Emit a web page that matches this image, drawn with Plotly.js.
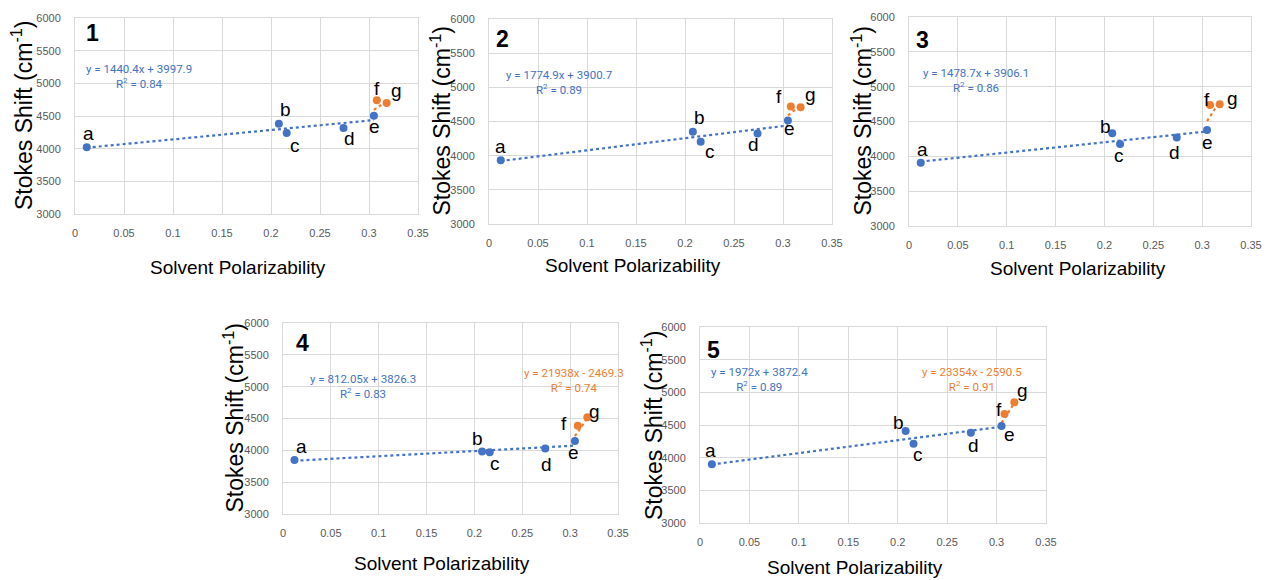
<!DOCTYPE html>
<html>
<head>
<meta charset="utf-8">
<script src="https://cdn.plot.ly/plotly-3.0.1.min.js"></script>
<style>html,body{margin:0;padding:0;background:#fff;}#chart{width:1266px;height:580px;}</style>
</head>
<body>
<div id="chart"></div>
<script>
// ---- data ----
const polarizability = [0.012, 0.208, 0.216, 0.274, 0.305, 0.308, 0.318];
const pointLabels = ['a', 'b', 'c', 'd', 'e', 'f', 'g'];
const panelNames = ['1', '2', '3', '4', '5'];
const shift1 = [4020, 4380, 4240, 4315, 4505, 4740, 4700];
const shift2 = [3933, 4349, 4202, 4324, 4515, 4720, 4710];
const shift3 = [3907, 4330, 4176, 4272, 4378, 4738, 4747];
const shift4 = [3850, 3981, 3970, 4028, 4148, 4388, 4518];
const shift5 = [3898, 4408, 4214, 4383, 4485, 4668, 4847];
// trendline coefficients [slope, intercept, R2] (null = no equation shown)
const blueFit = [[1440.4, 3997.9, 0.84], [1774.9, 3900.7, 0.89], [1478.7, 3906.1, 0.86], [812.05, 3826.3, 0.83], [1972, 3872.4, 0.89]];
const orangeFit = [null, null, null, [21938, -2469.3, 0.74], [23354, -2590.5, 0.91]];
const xTickVals = [0, 0.05, 0.1, 0.15, 0.2, 0.25, 0.3, 0.35];
const yTickVals = [3000, 3500, 4000, 4500, 5000, 5500, 6000];
const xTitle = 'Solvent Polarizability';
const yTitle = 'Stokes Shift (cm<sup>-1</sup>)';

// ---- styling / layout (positions) ----
const W = 1266, H = 580;
const boxes = [ // [left, right, top, bottom] in px
  [75, 418, 18, 214],
  [489, 832, 19, 224],
  [909, 1251, 17, 226],
  [283, 618, 323, 514],
  [700, 1046, 327, 523]
];
const labelOffsets = [ // [dx, dy] px (dy down-positive)
  [[2,-14],[7,-14],[8,13],[6,10],[1,11],[0,-12],[10,-12]],
  [[0,-14],[7,-14],[9,10],[-4,11],[2,8],[-12,-10],[10,-13]],
  [[2,-13],[-7,-7],[-1,11],[-2,15],[0,12],[-3,-5],[13,-6]],
  [[7,-13],[-5,-13],[5,11],[1,16],[-1,12],[-14,-2],[7,-6]],
  [[-1,-14],[-7,-9],[4,11],[3,13],[8,9],[-5,-5],[8,-12]]
];
const panelNumPos = [[17,15],[13,20],[13,23],[19,20],[13,23]];
const blueEqPos = [[0.0658,5100],[0.0717,5074],[0.0683,5091],[0.0833,5006],[0.0604,5201]];
const orangeEqPos = [null, null, null, [0.304,5089],[0.2755,5204]];
const xTitlePos = [[238,267],[633,265],[1078,268],[442,563],[855,567]];
const yTitleX = [22, 440, 861, 234, 652];

const BLUE = '#4472C4', ORANGE = '#ED7D31';
const FONT = 'Liberation Sans, Arial, sans-serif';
const allShifts = [shift1, shift2, shift3, shift4, shift5];

function lsq(xs, ys) {
  const n = xs.length;
  const mx = xs.reduce((a,b)=>a+b,0)/n, my = ys.reduce((a,b)=>a+b,0)/n;
  let sxy = 0, sxx = 0;
  for (let i=0;i<n;i++){ sxy += (xs[i]-mx)*(ys[i]-my); sxx += (xs[i]-mx)**2; }
  const m = sxy/sxx; return [m, my - m*mx];
}

const traces = [];
const annotations = [];
const layout = {
  width: W, height: H,
  margin: {l:0, r:0, t:0, b:0},
  paper_bgcolor: '#ffffff', plot_bgcolor: '#ffffff',
  showlegend: false,
  font: {family: FONT, color: '#000'}
};

allShifts.forEach((ys, p) => {
  const k = p + 1;
  const xa = 'x' + (k === 1 ? '' : k), ya = 'y' + (k === 1 ? '' : k);
  const xName = 'xaxis' + (k === 1 ? '' : k), yName = 'yaxis' + (k === 1 ? '' : k);
  const b = boxes[p];
  const blueX = polarizability.slice(0, 5), blueY = ys.slice(0, 5);
  const orX = polarizability.slice(4), orY = ys.slice(4);
  // blue trendline
  const bf = blueFit[p];
  const bx = [blueX[0], blueX[4]];
  traces.push({x: bx, y: bx.map(v => bf[0]*v + bf[1]), xaxis: xa, yaxis: ya, mode: 'lines',
    line: {color: BLUE, width: 2.2, dash: 'dot'}, hoverinfo: 'skip'});
  // orange trendline
  const of = orangeFit[p] ? orangeFit[p] : lsq(orX, orY);
  const ox = [orX[0], orX[orX.length-1]];
  traces.push({x: ox, y: ox.map(v => of[0]*v + of[1]), xaxis: xa, yaxis: ya, mode: 'lines',
    line: {color: ORANGE, width: 2.2, dash: 'dot'}, hoverinfo: 'skip'});
  // points
  traces.push({x: blueX, y: blueY, xaxis: xa, yaxis: ya, mode: 'markers',
    marker: {color: BLUE, size: 8}});
  traces.push({x: polarizability.slice(5), y: ys.slice(5), xaxis: xa, yaxis: ya, mode: 'markers',
    marker: {color: ORANGE, size: 8}});

  layout[xName] = {
    domain: [b[0]/W, b[1]/W], anchor: ya, range: [0, 0.35],
    tickvals: xTickVals, ticktext: xTickVals.map(String),
    showgrid: true, gridcolor: '#d9d9d9', gridwidth: 1,
    showline: true, linecolor: '#d9d9d9', linewidth: 1, mirror: true,
    zeroline: false, ticks: '', ticklabelstandoff: 9,
    tickfont: {size: 11, color: '#595959', family: FONT},
    fixedrange: true
  };
  layout[yName] = {
    domain: [1 - b[3]/H, 1 - b[2]/H], anchor: xa, range: [3000, 6000],
    tickvals: yTickVals,
    showgrid: true, gridcolor: '#d9d9d9', gridwidth: 1,
    showline: true, linecolor: '#d9d9d9', linewidth: 1, mirror: true,
    zeroline: false, ticks: '', ticklabelstandoff: 11,
    tickfont: {size: 11, color: '#595959', family: FONT},
    fixedrange: true
  };

  // axis titles
  annotations.push({x: xTitlePos[p][0]/W, y: 1 - xTitlePos[p][1]/H, xref: 'paper', yref: 'paper',
    text: xTitle, showarrow: false, xanchor: 'center', yanchor: 'middle',
    font: {size: 19, color: '#000', family: FONT}});
  annotations.push({x: yTitleX[p]/W, y: 0.5, xref: 'paper', yref: ya + ' domain',
    text: yTitle, showarrow: false, xanchor: 'center', yanchor: 'middle', textangle: -90,
    font: {size: 23, color: '#000', family: FONT}});

  // point letters
  ys.forEach((v, i) => {
    const o = labelOffsets[p][i];
    annotations.push({x: polarizability[i], y: v, xref: xa, yref: ya, text: pointLabels[i],
      showarrow: false, xshift: o[0], yshift: -o[1], xanchor: 'center', yanchor: 'middle',
      font: {size: 19, color: '#000', family: FONT}});
  });
  // panel number
  const pn = panelNumPos[p];
  annotations.push({x: pn[0]/(b[1]-b[0]), y: 1 - pn[1]/(b[3]-b[2]), xref: xa + ' domain', yref: ya + ' domain',
    text: '<b>' + panelNames[p] + '</b>', showarrow: false, xanchor: 'center', yanchor: 'middle',
    font: {size: 23, color: '#000', family: FONT}});
  // equations
  const eqFont = 'Liberation Sans Narrow, Arial Narrow, Roboto, sans-serif';
  const bp = blueEqPos[p];
  annotations.push({x: bp[0], y: bp[1], xref: xa, yref: ya, showarrow: false, align: 'center',
    text: 'y = ' + bf[0] + 'x + ' + bf[1] + '<br>R<sup>2</sup> = ' + bf[2].toFixed(2),
    font: {size: 11.5, color: BLUE, family: eqFont}});
  if (orangeFit[p]) {
    const op = orangeEqPos[p];
    const c = orangeFit[p];
    annotations.push({x: op[0], y: op[1], xref: xa, yref: ya, showarrow: false, align: 'center',
      text: 'y = ' + c[0] + 'x - ' + Math.abs(c[1]) + '<br>R<sup>2</sup> = ' + c[2].toFixed(2),
      font: {size: 11.5, color: ORANGE, family: eqFont}});
  }
});
layout.annotations = annotations;

Plotly.newPlot('chart', traces, layout, {staticPlot: true, displayModeBar: false});
</script>
</body>
</html>
